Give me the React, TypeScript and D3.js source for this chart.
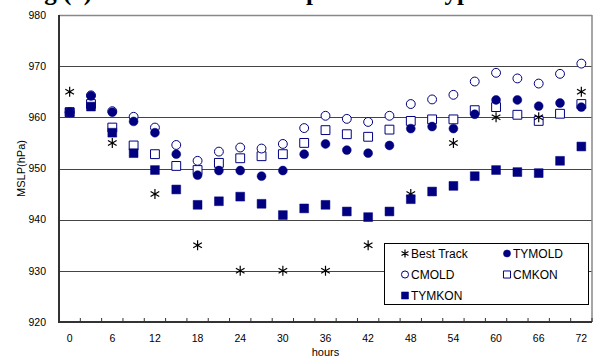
import React from 'react';
import * as d3 from 'd3';

// forecast hours (every 3 h) and best-track hours (every 6 h)
const hours = [0, 3, 6, 9, 12, 15, 18, 21, 24, 27, 30, 33, 36, 39, 42, 45, 48, 51, 54, 57, 60, 63, 66, 69, 72];
const tickHours = [0, 6, 12, 18, 24, 30, 36, 42, 48, 54, 60, 66, 72];
const yTicks = [920, 930, 940, 950, 960, 970, 980];

const bestTrackHours = [0, 6, 12, 18, 24, 30, 36, 42, 48, 54, 60, 66, 72];
const bestTrack = [965, 955, 945, 935, 930, 930, 930, 935, 945, 955, 960, 960, 965];

const tymold = [961, 964.2, 961, 959.2, 957, 952.8, 948.7, 949.6, 949.6, 948.5, 949.6, 952.8, 954.8, 953.6, 953, 954.5, 957.8, 958.2, 957.8, 960.6, 963.4, 963.4, 962.2, 962.8, 962];
const cmold = [961, 964.3, 961.2, 960.1, 958, 954.6, 951.5, 953.3, 954.1, 953.9, 954.8, 957.9, 960.3, 959.7, 959.1, 960.3, 962.6, 963.5, 964.4, 967, 968.7, 967.6, 966.6, 968.5, 970.5];
const cmkon = [961, 962.6, 958, 954.5, 952.8, 950.5, 949.7, 951.1, 952, 952.4, 952.8, 955, 957.5, 956.7, 956.2, 957.6, 959.3, 959.6, 959.6, 961.4, 962, 960.5, 959.3, 960.7, 962.6];
const tymkon = [961, 962.1, 957, 953, 949.7, 945.9, 942.9, 943.6, 944.5, 943.1, 940.9, 942.2, 942.9, 941.6, 940.5, 941.6, 944, 945.5, 946.6, 948.5, 949.7, 949.3, 949.1, 951.5, 954.3];

const NAVY = '#000080';
const W = 596;
const H = 358;
const margin = { top: 15, right: 4, bottom: 36, left: 59 };

type Kind = 'star' | 'dot' | 'ring' | 'box' | 'block';

function Marker({ kind, x, y, s = 1 }: { kind: Kind; x: number; y: number; s?: number }) {
  if (kind === 'star') {
    const d = d3.symbol(d3.symbolAsterisk, 70 * s * s)();
    return <path d={d ?? ''} transform={`translate(${x},${y})`} fill="none" stroke="#000" strokeWidth={1.2} />;
  }
  if (kind === 'dot' || kind === 'ring') {
    const d = d3.symbol(d3.symbolCircle, 62 * s * s)();
    return (
      <path d={d ?? ''} transform={`translate(${x},${y})`}
        fill={kind === 'dot' ? NAVY : '#fff'} stroke={NAVY} strokeWidth={kind === 'dot' ? 0.5 : 1} />
    );
  }
  const d = d3.symbol(d3.symbolSquare, 78 * s * s)();
  return (
    <path d={d ?? ''} transform={`translate(${x},${y})`}
      fill={kind === 'block' ? NAVY : '#fff'} stroke={NAVY} strokeWidth={kind === 'block' ? 0.5 : 1} />
  );
}

export default function App() {
  const x = d3.scaleBand<number>().domain(hours).range([margin.left, W - margin.right]).padding(0);
  const y = d3.scaleLinear().domain([920, 980]).range([H - margin.bottom, margin.top]);
  const cx = (h: number) => (x(h) ?? 0) + x.bandwidth() / 2;

  const bounds = hours.map((h) => x(h) ?? 0).concat([W - margin.right]);

  const series: { name: string; kind: Kind; hrs: number[]; vals: number[] }[] = [
    { name: 'CMKON', kind: 'box', hrs: hours, vals: cmkon },
    { name: 'Best Track', kind: 'star', hrs: bestTrackHours, vals: bestTrack },
    { name: 'TYMKON', kind: 'block', hrs: hours, vals: tymkon },
    { name: 'CMOLD', kind: 'ring', hrs: hours, vals: cmold },
    { name: 'TYMOLD', kind: 'dot', hrs: hours, vals: tymold },
  ];

  const legend: { name: string; kind: Kind }[] = [
    { name: 'Best Track', kind: 'star' },
    { name: 'TYMOLD', kind: 'dot' },
    { name: 'CMOLD', kind: 'ring' },
    { name: 'CMKON', kind: 'box' },
    { name: 'TYMKON', kind: 'block' },
  ];

  const x0 = margin.left;
  const x1 = W - margin.right;
  const yTop = margin.top;
  const yBot = H - margin.bottom;

  return (
    <div style={{ position: 'absolute', left: 0, top: 0 }}>
      <svg width={W} height={H} style={{ display: 'block', background: '#fff' }} fontFamily="'Liberation Sans', Arial, sans-serif">
        {/* title: only its lower edge falls inside the picture */}
        <text x={22} y={-0.5} fontFamily="'Liberation Serif', serif" fontWeight="bold" fontSize={25}>
          Fig.(a) Minimum sea level pressure of Typhoon
        </text>

        {/* grid */}
        {yTicks.map((t) => (
          <line key={t} x1={x0} x2={x1} y1={Math.round(y(t)) + 0.5} y2={Math.round(y(t)) + 0.5}
            stroke={t === 980 ? '#888' : '#444'} strokeWidth={t === 980 ? 1.5 : 1} />
        ))}
        <line x1={x1} x2={x1} y1={yTop} y2={yBot} stroke="#888" strokeWidth={1.5} />
        <line x1={x0} x2={x0} y1={yTop} y2={yBot + 1} stroke="#333" strokeWidth={2} />
        <line x1={x0} x2={x1} y1={yBot} y2={yBot} stroke="#333" strokeWidth={2} />
        {bounds.map((b, i) => (
          <line key={i} x1={b} x2={b} y1={yBot} y2={yBot - 4} stroke="#333" strokeWidth={1} />
        ))}

        {/* y tick labels */}
        {yTicks.map((t) => (
          <text key={t} x={46} y={y(t)} dy="0.35em" textAnchor="end" fontSize={10.5}
            fontFamily="'Liberation Sans Narrow', 'Liberation Sans', sans-serif">
            {t}
          </text>
        ))}
        {/* x tick labels */}
        {tickHours.map((h) => (
          <text key={h} x={cx(h)} y={342} textAnchor="middle" fontSize={10.5}>
            {h}
          </text>
        ))}
        <text x={(x0 + x1) / 2} y={356} textAnchor="middle" fontSize={11}>hours</text>
        <text transform={`translate(25,${(yTop + yBot) / 2}) rotate(-90)`} textAnchor="middle" fontSize={11}>
          MSLP(hPa)
        </text>

        {/* markers */}
        {series.map((s) => (
          <g key={s.name}>
            {s.vals.map((v, i) => (
              <Marker key={i} kind={s.kind} x={cx(s.hrs[i])} y={y(v)} />
            ))}
          </g>
        ))}

        {/* legend */}
        <g>
          <rect x={384.5} y={243.5} width={204} height={61} fill="#fff" stroke="#000" strokeWidth={1} />
          {legend.map((l, i) => {
            const col = i % 2;
            const row = Math.floor(i / 2);
            const sx = 405 + col * 102;
            const sy = 253.5 + row * 21;
            return (
              <g key={l.name}>
                <Marker kind={l.kind} x={sx} y={sy} s={0.8} />
                <text x={sx + 6} y={sy} dy="0.36em" fontSize={12}>{l.name}</text>
              </g>
            );
          })}
        </g>
      </svg>
    </div>
  );
}
